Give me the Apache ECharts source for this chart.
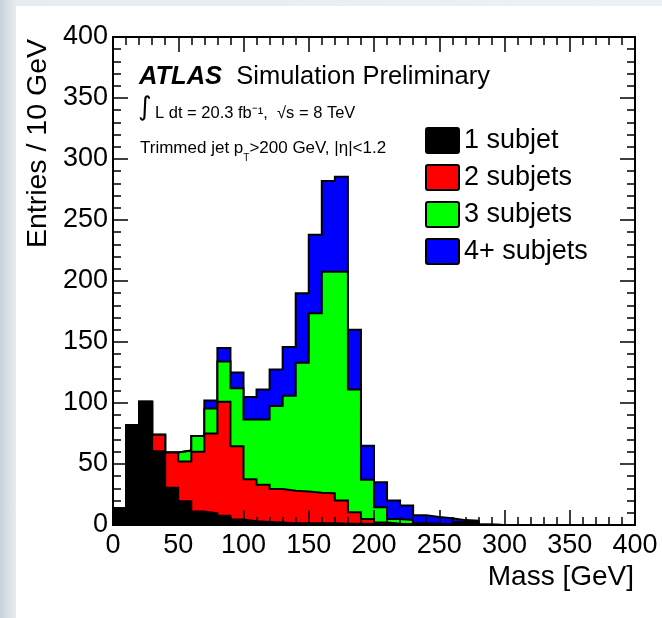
<!DOCTYPE html>
<html>
<head>
<meta charset="utf-8">
<script src="https://cdn.jsdelivr.net/npm/echarts@6/dist/echarts.min.js"></script>
<style>
  html, body { margin: 0; padding: 0; width: 662px; height: 618px; overflow: hidden; }
  #frame { position: absolute; left: 0; top: 0; width: 662px; height: 618px;
    background: linear-gradient(to right, #c8d2da 0px, #dbe2e7 9px, #e8ecef 16px, #eef1f3 100%); }
  #panel { position: absolute; left: 16px; top: 6px; width: 646px; height: 612px; background: #ffffff; }
  #chart { position: absolute; left: 0; top: 0; width: 662px; height: 618px; }
</style>
</head>
<body>
<div id="frame"></div>
<div id="panel"></div>
<div id="chart"></div>
<script>
// ---- data (entries per 10 GeV bin) ----
const binLowEdges = [0,10,20,30,40,50,60,70,80,90,100,110,120,130,140,150,160,170,180,190,
                     200,210,220,230,240,250,260,270,280,290,300,310,320,330,340,350,360,370,380,390];
const binUpperEnd = 400;
const seriesNames = ['1 subjet', '2 subjets', '3 subjets', '4+ subjets'];
const oneSubjet  = [14,82,101,60.5,30.5,19.5,11,9.5,7.5,4.5,3,2.5,2,1.5,1.5,1.5,1.5,1,1,0.8,
                    0.5,0.5,0.5,0.5,0.5,0.5,2.5,2.5,0.3,0,0,0,0,0,0,0,0,0,0,0];
const twoSubjets = [0,0,0,13.5,29,32.5,49,65.5,93.5,60,34.5,30.5,27.5,26.5,26,25,24.5,19,9.5,4.2,
                    1.5,0.5,0.3,0.1,0,0,0,0,0,0,0,0,0,0,0,0,0,0,0,0];
const threeSubjets = [0,0,0,0,0,9,13,20.5,33,47.5,49,53.5,68,78,105.5,147,181.5,187.5,100.5,32,
                      12.5,4,3.2,0.9,0.5,0.3,0,0,0,0,0,0,0,0,0,0,0,0,0,0];
const fourPlusSubjets = [0,0,0,0,0,0,0,6.5,11,13,18.5,24.5,30,40,57,64.5,74.5,78,49,28,
                         20.5,15,12,6.5,5.5,4.7,1.5,1,0,0,0,0,0,0,0,0,0,0,0,0];
const xTicks = [0,50,100,150,200,250,300,350,400];
const yTicks = [0,50,100,150,200,250,300,350,400];
const fillColors = ['#000000', '#ff0000', '#00ff00', '#0000ff'];

// ---- build stacked (cumulative) step outlines ----
const layers = [oneSubjet, twoSubjets, threeSubjets, fourPlusSubjets];
const cumulative = [];
let running = binLowEdges.map(() => 0);
layers.forEach(layer => {
  running = running.map((v, i) => v + layer[i]);
  cumulative.push(running.slice());
});
function stepData(cum) {
  const pts = binLowEdges.map((x, i) => [x, cum[i]]);
  pts.push([binUpperEnd, cum[cum.length - 1]]);
  return pts;
}

const FONT = '"Liberation Sans", Arial, Helvetica, sans-serif';
const chart = echarts.init(document.getElementById('chart'), null, { renderer: 'canvas' });

const series = [];
for (let k = layers.length - 1; k >= 0; k--) {
  series.push({
    name: seriesNames[k],
    type: 'line',
    step: 'end',
    data: stepData(cumulative[k]),
    showSymbol: false,
    symbol: 'none',
    z: 2 + (layers.length - k),
    itemStyle: { color: fillColors[k] },
    lineStyle: { color: '#000', width: 2, join: 'miter' },
    areaStyle: { color: fillColors[k], opacity: 1, origin: 'start' },
    emphasis: { disabled: true },
    animation: false
  });
}

const axisCommon = {
  type: 'value', min: 0, max: 400, interval: 50,
  axisLine: { show: true, onZero: false, lineStyle: { color: '#000', width: 2 } },
  axisTick: { show: true, inside: true, length: 15, lineStyle: { color: '#000', width: 1.5 } },
  minorTick: { show: true, splitNumber: 5, length: 8, lineStyle: { color: '#000', width: 1.5 } },
  splitLine: { show: false },
  minorSplitLine: { show: false },
  z: 20
};

const option = {
  animation: false,
  backgroundColor: 'transparent',
  grid: { left: 113, right: 27, top: 37, bottom: 93, containLabel: false },
  xAxis: [
    Object.assign({}, axisCommon, {
      position: 'bottom',
      axisLabel: { show: true, margin: 7, color: '#000', fontFamily: FONT, fontSize: 27,
                   formatter: v => (xTicks.indexOf(v) >= 0 ? String(v) : '') },
      name: 'Mass [GeV]', nameLocation: 'end', nameGap: -1,
      nameTextStyle: { color: '#000', fontFamily: FONT, fontSize: 28, align: 'right',
                       verticalAlign: 'top', padding: [38, 0, 0, 0] }
    }),
    Object.assign({}, axisCommon, { position: 'top', axisLabel: { show: false } })
  ],
  yAxis: [
    Object.assign({}, axisCommon, {
      position: 'left',
      axisLabel: { show: true, margin: 5, color: '#000', fontFamily: FONT, fontSize: 27,
                   formatter: v => (yTicks.indexOf(v) >= 0 ? String(v) : '') },
      name: 'Entries / 10 GeV', nameLocation: 'end', nameGap: -2, nameRotate: 90,
      nameTextStyle: { color: '#000', fontFamily: FONT, fontSize: 28.5, align: 'right',
                       verticalAlign: 'bottom', padding: [0, 0, 60, 0] }
    }),
    Object.assign({}, axisCommon, { position: 'right', axisLabel: { show: false } })
  ],
  legend: {
    orient: 'vertical', left: 425, top: 127, padding: 0,
    itemWidth: 33, itemHeight: 25, itemGap: 10,
    icon: 'path://M2,0 L31,0 Q33,0 33,2 L33,23 Q33,25 31,25 L2,25 Q0,25 0,23 L0,2 Q0,0 2,0 Z',
    selectedMode: false,
    textStyle: { color: '#000', fontFamily: FONT, fontSize: 27 },
    data: seriesNames.map((n, k) => ({
      name: n,
      itemStyle: { color: fillColors[k], borderColor: '#000', borderWidth: 2 }
    }))
  },
  graphic: [
    { type: 'text', left: 139, top: 64, z: 30,
      style: { text: '{b|ATLAS}  Simulation Preliminary', fill: '#000', fontFamily: FONT, fontSize: 25.5,
               rich: { b: { fontFamily: FONT, fontSize: 25.5, fontWeight: 'bold', fontStyle: 'italic', fill: '#000' } } } },
    { type: 'text', left: 138, top: 95, z: 30,
      style: { text: '∫', fill: '#000', fontFamily: '"DejaVu Sans"', fontSize: 26 } },
    { type: 'text', left: 155, top: 105, z: 30,
      style: { text: 'L dt = 20.3 fb⁻¹,  √s = 8 TeV', fill: '#000', fontFamily: FONT, fontSize: 16.5 } },
    { type: 'text', left: 140, top: 140, z: 30,
      style: { text: '{a|Trimmed jet p}{s|T}{a|>200 GeV, |η|<1.2}', fill: '#000', fontFamily: FONT, fontSize: 17,
               rich: { a: { fontFamily: FONT, fontSize: 17, fill: '#000', verticalAlign: 'top', lineHeight: 18 },
                       s: { fontFamily: FONT, fontSize: 10, fill: '#000', verticalAlign: 'bottom', lineHeight: 23 } } } }
  ],
  series: series
};
chart.setOption(option);
</script>
</body>
</html>
